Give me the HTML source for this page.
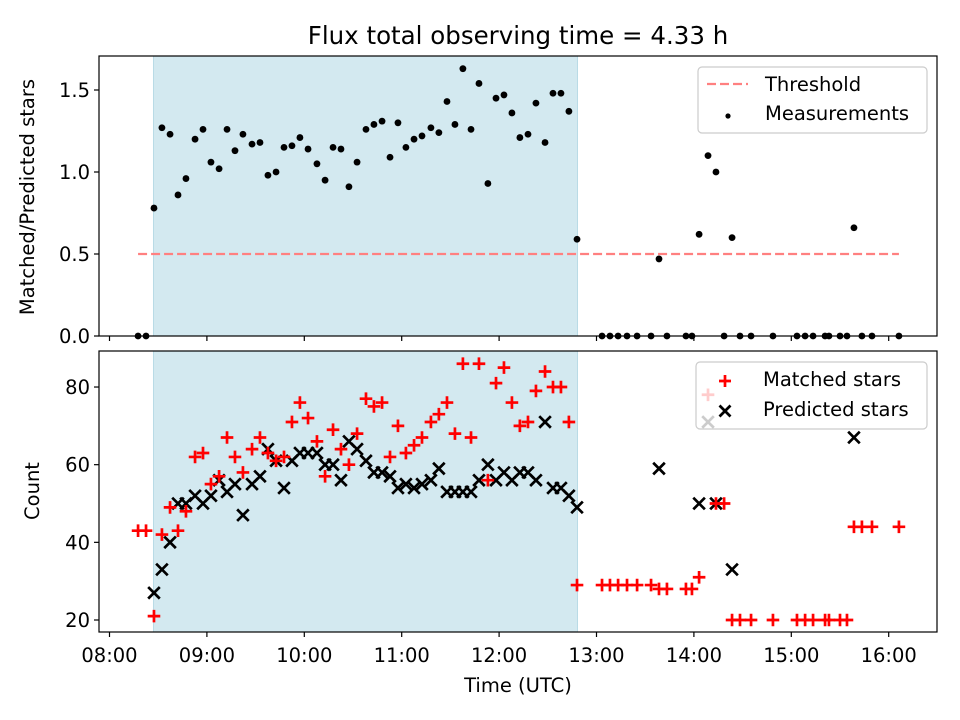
<!DOCTYPE html>
<html><head><meta charset="utf-8"><style>
html,body{margin:0;padding:0;background:#fff;}
svg{display:block;font-family:"DejaVu Sans","Liberation Sans",sans-serif;}
</style></head><body>
<svg id="fig" width="960" height="720" viewBox="0 0 960 720" xmlns="http://www.w3.org/2000/svg">
<rect x="0" y="0" width="960" height="720" fill="#fff"/>
<text x="518" y="44" font-size="24.5" text-anchor="middle" fill="#000">Flux total observing time = 4.33 h</text>
</svg>
<script>
// minutes since 08:00 UTC
const times = [17.6,22.5,27.4,32.3,37.3,42.2,47.1,52.7,57.6,62.5,67.5,72.4,77.3,82.2,87.8,92.7,97.6,102.6,107.5,112.4,117.3,122.3,127.8,132.8,137.7,142.6,147.5,152.5,158.0,162.9,167.9,172.8,177.7,182.6,187.6,192.5,198.0,202.9,207.9,212.8,217.7,222.7,227.6,233.1,238.1,243.0,247.9,252.8,257.8,262.7,268.3,273.2,278.1,283.0,288.0,
303.4,308.3,313.3,318.8,325.0,333.6,338.5,343.4,355.1,358.8,363.2,368.7,373.6,378.6,383.5,388.4,395.2,408.7,423.5,428.5,433.4,440.8,443.2,450.0,454.3,458.6,463.5,469.7,486.3];
const ratio = [0,0,0.78,1.27,1.23,0.86,0.96,1.20,1.26,1.06,1.02,1.26,1.13,1.23,1.17,1.18,0.98,1.00,1.15,1.16,1.21,1.14,1.05,0.95,1.15,1.14,0.91,1.06,1.26,1.29,1.31,1.09,1.30,1.15,1.20,1.22,1.27,1.24,1.43,1.29,1.63,1.26,1.54,0.93,1.45,1.47,1.36,1.21,1.23,1.42,1.18,1.48,1.48,1.37,0.59,
0,0,0,0,0,0,0.47,0,0,0,0.62,1.10,1.00,0,0.60,0,0,0,0,0,0,0,0,0,0,0.66,0,0,0];
const matched = [43,43,21,42,49,43,48,62,63,55,57,67,62,58,64,67,63,61,62,71,76,72,66,57,69,64,60,68,77,75,76,62,70,63,65,67,71,73,76,68,86,67,86,56,81,85,76,70,71,79,84,80,80,71,29,
29,29,29,29,29,29,28,28,28,28,31,78,50,50,20,20,20,20,20,20,20,20,20,20,20,44,44,44,44];
const predicted = [null,null,27,33,40,50,50,52,50,52,56,53,55,47,55,57,64,61,54,61,63,63,63,60,60,56,66,64,61,58,58,57,54,55,54,55,56,59,53,53,53,53,56,60,56,58,56,58,58,56,71,54,54,52,49,
null,null,null,null,null,null,59,null,null,null,50,71,50,null,33,null,null,null,null,null,null,null,null,null,null,67,null,null,null];
const threshold = 0.5;
const shadeStart = 27.1, shadeEnd = 288.3;
const xTickLabels = ["08:00","09:00","10:00","11:00","12:00","13:00","14:00","15:00","16:00"];
const topTicks = [0,0.5,1.0,1.5];
const topTickLabels = ["0.0","0.5","1.0","1.5"];
const botTicks = [20,40,60,80];

const NS="http://www.w3.org/2000/svg";
const svg=document.getElementById('fig');
const L=99,R=937;
const T1=56,B1=336,T2=351,B2=632;
function x(m){return 109.5+m*97.4/60;}
function yTop(v){return 336-v*164;}
function yBot(v){return 620-(v-20)*3.883;}
function mk(tag,attrs,parent){const e=document.createElementNS(NS,tag);for(const k in attrs)e.setAttribute(k,attrs[k]);(parent||svg).appendChild(e);return e;}

function panel(top,bot,name){
  const g=mk('g',{});
  
  
  const sh=mk('rect',{x:x(shadeStart),y:top,width:x(shadeEnd)-x(shadeStart),height:bot-top,fill:'#d3e9f0',stroke:'#b9dbe6','stroke-width':1},g);
  
  
  return g;
}
function frame(top,bot,g,labels){
  const f=mk('rect',{x:L,y:top,width:R-L,height:bot-top,fill:'none',stroke:'#000','stroke-width':1.2},g);
  
  
  xTickLabels.forEach((lab,i)=>{
    const xx=x(i*60);
    const t=mk('line',{x1:xx,x2:xx,y1:bot,y2:bot+5,stroke:'#000','stroke-width':1.2},g);
    
    
    if(labels){
      const tx=mk('text',{x:xx,y:bot+30,'font-size':19.5,'text-anchor':'middle',fill:'#000'},g);
      tx.textContent=lab;
      
      
    }
  });
}

// top panel
const g1=panel(T1,B1,'ratio-panel');
const th=mk('line',{x1:x(times[0]),x2:x(times[times.length-1]),y1:yTop(threshold),y2:yTop(threshold),stroke:'#ff8080','stroke-width':2.3,'stroke-dasharray':'9,4'},g1);


times.forEach((t,i)=>{
  const c=mk('circle',{cx:x(t),cy:yTop(ratio[i]),r:3.4,fill:'#000'},g1);
  
  
});
frame(T1,B1,g1,false);
topTicks.forEach((v,i)=>{
  const yy=yTop(v);
  const t=mk('line',{x1:L-5,x2:L,y1:yy,y2:yy,stroke:'#000','stroke-width':1.2},g1);
  
  
  const tx=mk('text',{x:L-9,y:yy+7,'font-size':19.5,'text-anchor':'end',fill:'#000'},g1);
  tx.textContent=topTickLabels[i];
  
  
});
const yl1=mk('text',{x:0,y:0,'font-size':19.5,'text-anchor':'middle',fill:'#000',transform:'translate(34,197) rotate(-90)'},g1);
yl1.textContent='Matched/Predicted stars';


// legend top
const lg1=mk('g',{},g1);


mk('rect',{x:698,y:67,width:229,height:66,rx:4,fill:'rgba(255,255,255,0.8)',stroke:'#ccc','stroke-width':1.2},lg1);
const le1=mk('line',{x1:707,x2:748,y1:84,y2:84,stroke:'#ff8080','stroke-width':2.3,'stroke-dasharray':'9,4'},lg1);


const lt1=mk('text',{x:765,y:91,'font-size':19.5,fill:'#000'},lg1);
lt1.textContent='Threshold';


const le2=mk('circle',{cx:728,cy:116,r:2.6,fill:'#000'},lg1);


const lt2=mk('text',{x:765,y:120,'font-size':19.5,fill:'#000'},lg1);
lt2.textContent='Measurements';



// bottom panel
const g2=panel(T2,B2,'count-panel');
function xMark(cx,cy,s,p){
  return mk('path',{d:`M${cx-s},${cy-s}L${cx+s},${cy+s}M${cx-s},${cy+s}L${cx+s},${cy-s}`,stroke:'#000','stroke-width':2.7,fill:'none'},p);
}
function plusMark(cx,cy,s,p){
  return mk('path',{d:`M${cx-s},${cy}L${cx+s},${cy}M${cx},${cy-s}L${cx},${cy+s}`,stroke:'#ff0000','stroke-width':2.7,fill:'none'},p);
}
times.forEach((t,i)=>{
  if(predicted[i]===null)return;
  const e=xMark(x(t),yBot(predicted[i]),5.8,g2);
  
  
});
times.forEach((t,i)=>{
  const e=plusMark(x(t),yBot(matched[i]),6.3,g2);
  
  
});
frame(T2,B2,g2,true);
botTicks.forEach(v=>{
  const yy=yBot(v);
  const t=mk('line',{x1:L-5,x2:L,y1:yy,y2:yy,stroke:'#000','stroke-width':1.2},g2);
  
  
  const tx=mk('text',{x:L-9,y:yy+7,'font-size':19.5,'text-anchor':'end',fill:'#000'},g2);
  tx.textContent=String(v);
  
  
});
const yl2=mk('text',{x:0,y:0,'font-size':19.5,'text-anchor':'middle',fill:'#000',transform:'translate(39,491) rotate(-90)'},g2);
yl2.textContent='Count';


const xl=mk('text',{x:518,y:692,'font-size':19.5,'text-anchor':'middle',fill:'#000'},g2);
xl.textContent='Time (UTC)';


// legend bottom
const lg2=mk('g',{},g2);


mk('rect',{x:696,y:362,width:231,height:67,rx:4,fill:'rgba(255,255,255,0.8)',stroke:'#ccc','stroke-width':1.2},lg2);
const h1=plusMark(725,381,6,lg2);


const t1=mk('text',{x:763,y:386,'font-size':19.5,fill:'#000'},lg2);
t1.textContent='Matched stars';


const h2=xMark(725,411,5.5,lg2);


const t2=mk('text',{x:763,y:416,'font-size':19.5,fill:'#000'},lg2);
t2.textContent='Predicted stars';


</script>
</body></html>
